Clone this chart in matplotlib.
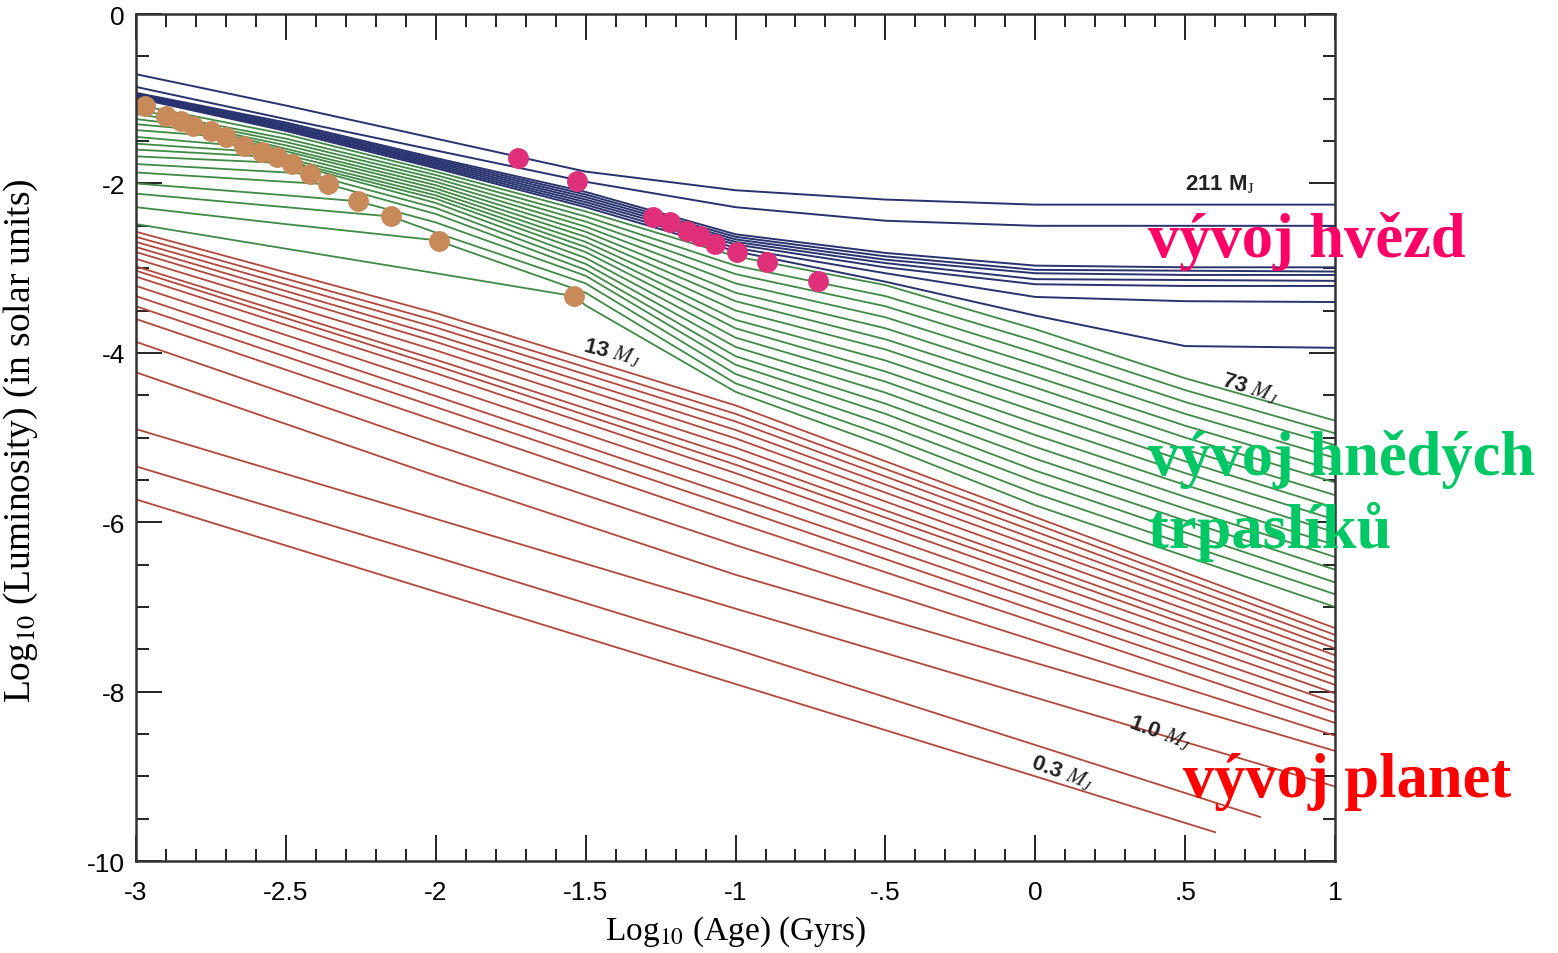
import matplotlib
matplotlib.use("Agg")
import matplotlib.pyplot as plt
from matplotlib.ticker import MultipleLocator, FixedLocator
import numpy as np

plt.rcParams['mathtext.fontset'] = 'stix'

age_grid = [-3, -2.5, -2, -1.5, -1, -0.5, 0, 0.5, 1]

# stars (blue), top = 211 M_J
star_lum = [
    [-0.71, -1.08, -1.47, -1.86, -2.08, -2.19, -2.25, -2.25, -2.25],
    [-0.86, -1.24, -1.61, -1.98, -2.28, -2.44, -2.50, -2.50, -2.50],
    [-0.93, -1.28, -1.70, -2.10, -2.60, -2.82, -2.97, -2.99, -2.99],
    [-0.94, -1.30, -1.72, -2.13, -2.63, -2.86, -3.02, -3.03, -3.04],
    [-0.95, -1.32, -1.74, -2.16, -2.66, -2.90, -3.06, -3.08, -3.08],
    [-0.96, -1.33, -1.76, -2.19, -2.69, -2.94, -3.13, -3.14, -3.15],
    [-0.97, -1.35, -1.78, -2.22, -2.72, -2.99, -3.19, -3.21, -3.21],
    [-0.98, -1.36, -1.80, -2.25, -2.76, -3.06, -3.34, -3.39, -3.40],
    [-0.99, -1.38, -1.82, -2.28, -2.80, -3.16, -3.56, -3.92, -3.94],
]

# brown dwarfs (green), top = 73 M_J, bottom = 13 M_J
bd_lum = [
    [-1.05, -1.42, -1.86, -2.33, -2.86, -3.20, -3.72, -4.30, -4.80],
    [-1.12, -1.47, -1.90, -2.39, -2.97, -3.33, -3.86, -4.44, -4.95],
    [-1.18, -1.51, -1.94, -2.45, -3.07, -3.45, -4.00, -4.58, -5.09],
    [-1.24, -1.55, -1.98, -2.51, -3.18, -3.58, -4.14, -4.72, -5.24],
    [-1.30, -1.59, -2.02, -2.57, -3.29, -3.71, -4.28, -4.86, -5.39],
    [-1.37, -1.62, -2.06, -2.63, -3.39, -3.84, -4.41, -5.00, -5.53],
    [-1.45, -1.66, -2.10, -2.69, -3.50, -3.96, -4.55, -5.14, -5.68],
    [-1.53, -1.70, -2.14, -2.75, -3.61, -4.09, -4.69, -5.28, -5.83],
    [-1.60, -1.73, -2.18, -2.81, -3.71, -4.22, -4.83, -5.42, -5.97],
    [-1.68, -1.76, -2.23, -2.88, -3.82, -4.34, -4.97, -5.56, -6.12],
    [-1.77, -1.87, -2.29, -2.95, -3.93, -4.47, -5.11, -5.70, -6.27],
    [-1.87, -1.98, -2.36, -3.02, -4.04, -4.60, -5.25, -5.84, -6.41],
    [-2.00, -2.14, -2.46, -3.09, -4.14, -4.72, -5.39, -5.98, -6.56],
    [-2.12, -2.28, -2.58, -3.18, -4.25, -4.85, -5.52, -6.12, -6.71],
    [-2.28, -2.48, -2.67, -3.29, -4.36, -4.98, -5.66, -6.26, -6.85],
    [-2.48, -2.77, -3.06, -3.44, -4.46, -5.10, -5.80, -6.40, -7.00],
]

# end of deuterium burning (tan dots), one per brown-dwarf curve
deut_age = [-2.97, -2.90, -2.85, -2.81, -2.75, -2.70, -2.64, -2.58,
            -2.53, -2.48, -2.42, -2.36, -2.26, -2.15, -1.99, -1.54]
deut_lum = [-1.09, -1.20, -1.26, -1.32, -1.38, -1.45, -1.56, -1.63,
            -1.69, -1.77, -1.89, -2.01, -2.21, -2.39, -2.68, -3.33]

# pink dots
hyd_age = [-1.725, -1.53, -1.275, -1.219, -1.162, -1.118, -1.068, -0.995, -0.895, -0.725]
hyd_lum = [-1.70, -1.97, -2.40, -2.46, -2.56, -2.62, -2.72, -2.81, -2.93, -3.15]

# planets (red), bottom = 0.3 M_J
planet_grid = [-3, -2, -1, 0, 1]
planet_lum = [
    [-2.57, -3.53, -4.62, -5.94, -7.25],
    [-2.63, -3.62, -4.72, -6.02, -7.33],
    [-2.69, -3.70, -4.81, -6.11, -7.41],
    [-2.75, -3.79, -4.91, -6.20, -7.49],
    [-2.81, -3.87, -5.01, -6.29, -7.57],
    [-2.89, -3.97, -5.12, -6.39, -7.66],
    [-2.98, -4.08, -5.23, -6.49, -7.75],
    [-3.03, -4.15, -5.32, -6.57, -7.83],
    [-3.10, -4.24, -5.42, -6.67, -7.92],
    [-3.21, -4.37, -5.55, -6.79, -8.02],
    [-3.33, -4.51, -5.70, -6.91, -8.13],
    [-3.45, -4.64, -5.83, -7.04, -8.24],
    [-3.60, -4.80, -6.00, -7.18, -8.37],
    [-3.87, -5.09, -6.27, -7.40, -8.52],
    [-4.23, -5.45, -6.62, -7.66, -8.70],
    [-4.90, -5.96, -7.02, -8.07, -9.12],
    [-5.34, -6.41, -7.50, -8.63, -9.48],
    [-5.73, -6.82, -7.91, -9.00, -9.66],
]
planet_last_age = [1] * 16 + [0.75, 0.6]

fig = plt.figure(figsize=(15.58, 9.54), dpi=100)
ax = fig.add_axes([0.0873, 0.0964, 0.7696, 0.8878])

red = '#b4473b'
green = '#3f8a45'
blue = '#27326e'

for lum, last in zip(planet_lum, planet_last_age):
    xs = planet_grid[:-1] + [last]
    ax.plot(xs, lum, color=red, lw=1.3)

for lum, da, dl in zip(bd_lum, deut_age, deut_lum):
    xs = np.array(age_grid + [da])
    ys = np.array(lum + [dl])
    order = np.argsort(xs)
    ax.plot(xs[order], ys[order], color=green, lw=1.3)

for lum in star_lum:
    ax.plot(age_grid, lum, color=blue, lw=1.4)

ax.plot(deut_age, deut_lum, 'o', color='#c98a5a', ms=14, mec='#c98a5a')
ax.plot(hyd_age, hyd_lum, 'o', color='#e0307a', ms=14, mec='#e0307a')

ax.set_xlim(-3, 1)
ax.set_ylim(-10, 0)

ax.xaxis.set_major_locator(FixedLocator([-3, -2.5, -2, -1.5, -1, -0.5, 0, 0.5, 1]))
ax.set_xticklabels(['-3', '-2.5', '-2', '-1.5', '-1', '-.5', '0', '.5', '1'])
ax.xaxis.set_minor_locator(MultipleLocator(0.1))
ax.yaxis.set_major_locator(FixedLocator([0, -2, -4, -6, -8, -10]))
ax.set_yticklabels(['0', '-2', '-4', '-6', '-8', '-10'])
ax.yaxis.set_minor_locator(MultipleLocator(0.5))

ax.tick_params(which='both', direction='in', top=True, right=True, width=1.4, color='#222222')
ax.tick_params(which='major', length=19)
ax.tick_params(which='minor', length=9)
ax.tick_params(axis='x', which='major', pad=14, labelsize=19)
ax.tick_params(axis='y', which='major', pad=8, labelsize=19)
for lab in ax.get_xticklabels() + ax.get_yticklabels():
    lab.set_fontfamily('Liberation Sans')
for sp in ax.spines.values():
    sp.set_linewidth(1.8)
    sp.set_color('#333333')

ax.set_xlabel(r'Log$_{10}$ (Age) (Gyrs)', family='Liberation Serif', fontsize=24)
ax.set_ylabel(r'Log$_{10}$ (Luminosity) (in solar units)', family='Liberation Serif', fontsize=27)
ax.xaxis.set_label_coords(0.5, -0.062)
ax.yaxis.set_label_coords(-0.08, 0.498)

lab_kw = dict(family='Liberation Sans', fontweight='bold', fontsize=16, color='#222222')
ax.text(0.50, -2.0, r'211 M$_{\rm J}$', ha='left', va='center', **lab_kw)
ax.text(0.717, -4.40, r'73 $M_J$', ha='center', va='center', rotation=-17, **lab_kw)
ax.text(-1.41, -3.98, r'13 $M_J$', ha='center', va='center', rotation=-14, **lab_kw)
ax.text(0.416, -8.47, r'1.0 $M_J$', ha='center', va='center', rotation=-20, **lab_kw)
ax.text(0.089, -8.95, r'0.3 $M_J$', ha='center', va='center', rotation=-20, **lab_kw)

big = dict(family='Liberation Serif', fontweight='bold', fontsize=45, va='baseline', ha='left')
fig.text(0.737, 1 - 257 / 954, 'vývoj hvězd', color='#ff0066', **big)
fig.text(0.737, 1 - 475 / 954, 'vývoj hnědých', color='#00c864', **big)
fig.text(0.737, 1 - 548 / 954, 'trpaslíků', color='#00c864', **big)
fig.text(0.759, 1 - 797 / 954, 'vývoj planet', color='#ff0000', **big)

fig.savefig('out.png', dpi=100)
